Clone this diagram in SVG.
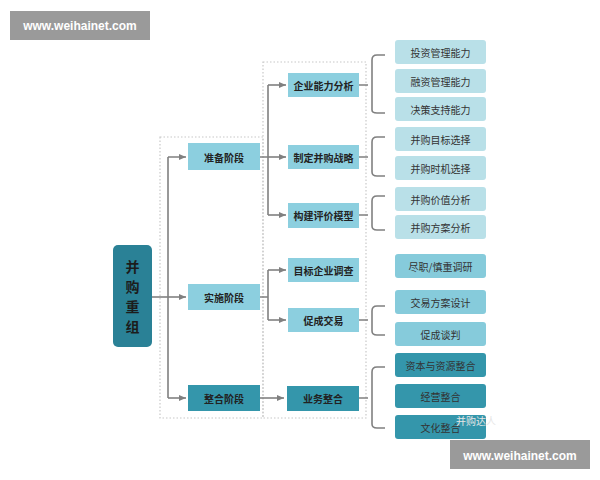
<svg xmlns="http://www.w3.org/2000/svg" width="600" height="480" viewBox="0 0 600 480">
<defs>
<marker id="ah" markerWidth="8" markerHeight="8" refX="7" refY="4" orient="auto" markerUnits="userSpaceOnUse"><path d="M0,1 L7,4 L0,7 Z" fill="#808080"/></marker>
<style>
text{font-family:"Noto Sans CJK SC","Noto Sans",sans-serif;text-anchor:middle;dominant-baseline:central}
.c{fill:none;stroke:#808080;stroke-width:1.6}
.dot{fill:none;stroke:#c8c8c8;stroke-width:1.2;stroke-dasharray:1.5 2}
.l1{fill:#8ccfdf}.l2{fill:#8ccfdf}.lf{fill:#b9e0e8}.md{fill:#86cbdb}.dk{fill:#3496ab}
.t{font-size:10px;fill:#222;font-weight:bold}
.s{font-size:10px;fill:#333}
.r{font-size:14px;font-weight:bold;fill:#1c1c1c}
</style>
</defs>
<rect width="600" height="480" fill="#fff"/>
<rect class="dot" x="160" y="137" width="103" height="281"/>
<rect class="dot" x="263" y="62" width="103" height="356"/>
<g id="connectors">
<path class="c" d="M152,297 H168"/>
<path class="c" d="M168,157 V398 M168,157 H186" marker-end="url(#ah)"/>
<path class="c" d="M168,297 H186" marker-end="url(#ah)"/>
<path class="c" d="M168,398 H186" marker-end="url(#ah)"/>
<path class="c" d="M260,157 H268 M268,85 V215"/>
<path class="c" d="M268,85 H286" marker-end="url(#ah)"/>
<path class="c" d="M268,157 H286" marker-end="url(#ah)"/>
<path class="c" d="M268,215 H286" marker-end="url(#ah)"/>
<path class="c" d="M260,297 H268 M268,270 V320"/>
<path class="c" d="M268,270 H286" marker-end="url(#ah)"/>
<path class="c" d="M268,320 H286" marker-end="url(#ah)"/>
<path class="c" d="M260,398 H284" marker-end="url(#ah)"/>
<path class="c" d="M359,85 H368 M385,55 H377 Q372,55 372,60 V110 Q372,113 377,113 H385"/>
<path class="c" d="M359,157 H368 M385,137 H377 Q372,137 372,142 V172 Q372,176 377,176 H385"/>
<path class="c" d="M359,215 H368 M385,196 H377 Q372,196 372,201 V226 Q372,230 377,230 H385"/>
<path class="c" d="M359,320 H368 M385,306 H377 Q372,306 372,311 V331 Q372,335 377,335 H385"/>
<path class="c" d="M359,398 H368 M385,367 H377 Q372,367 372,372 V424 Q372,428 377,428 H385"/>
</g>
<g id="root"><rect x="113" y="245" width="39" height="102" rx="5" fill="#2a8196"/>
<text class="r" x="132.5" y="266">并</text>
<text class="r" x="132.5" y="286">购</text>
<text class="r" x="132.5" y="306">重</text>
<text class="r" x="132.5" y="326">组</text></g>
<g id="p1"><rect class="l1" x="188" y="143" width="72" height="27"/><text class="t" x="224" y="157">准备阶段</text></g>
<g id="p2"><rect class="l1" x="188" y="284" width="72" height="26"/><text class="t" x="224" y="297">实施阶段</text></g>
<g id="p3"><rect class="dk" x="188" y="385" width="72" height="26"/><text class="t" x="224" y="398">整合阶段</text></g>
<g id="a1"><rect class="l2" x="288" y="73" width="71" height="24"/><text class="t" x="323.5" y="85">企业能力分析</text></g>
<g id="a2"><rect class="l2" x="288" y="145" width="71" height="24"/><text class="t" x="323.5" y="157">制定并购战略</text></g>
<g id="a3"><rect class="l2" x="288" y="203" width="71" height="25"/><text class="t" x="323.5" y="215">构建评价模型</text></g>
<g id="b1"><rect class="l2" x="288" y="258" width="71" height="24"/><text class="t" x="323.5" y="270">目标企业调查</text></g>
<g id="b2"><rect class="l2" x="288" y="308" width="71" height="24"/><text class="t" x="323.5" y="320">促成交易</text></g>
<g id="c1"><rect class="dk" x="287" y="386" width="72" height="25"/><text class="t" x="323" y="398">业务整合</text></g>
<g id="f1"><rect class="lf" x="395" y="40" width="91" height="24" rx="3"/><text class="s" x="440.5" y="52">投资管理能力</text></g>
<g id="f2"><rect class="lf" x="395" y="69" width="91" height="24" rx="3"/><text class="s" x="440.5" y="81">融资管理能力</text></g>
<g id="f3"><rect class="lf" x="395" y="97" width="91" height="24" rx="3"/><text class="s" x="440.5" y="109">决策支持能力</text></g>
<g id="f4"><rect class="lf" x="395" y="127" width="91" height="24" rx="3"/><text class="s" x="440.5" y="139">并购目标选择</text></g>
<g id="f5"><rect class="lf" x="395" y="156" width="91" height="24" rx="3"/><text class="s" x="440.5" y="168">并购时机选择</text></g>
<g id="f6"><rect class="lf" x="395" y="187" width="91" height="24" rx="3"/><text class="s" x="440.5" y="199">并购价值分析</text></g>
<g id="f7"><rect class="lf" x="395" y="215" width="91" height="24" rx="3"/><text class="s" x="440.5" y="227">并购方案分析</text></g>
<g id="g1"><rect class="md" x="395" y="254" width="91" height="24" rx="3"/><text class="s" x="440.5" y="266">尽职/慎重调研</text></g>
<g id="g2"><rect class="md" x="395" y="290" width="91" height="24" rx="3"/><text class="s" x="440.5" y="302">交易方案设计</text></g>
<g id="g3"><rect class="md" x="395" y="322" width="91" height="24" rx="3"/><text class="s" x="440.5" y="334">促成谈判</text></g>
<g id="h1"><rect class="dk" x="395" y="353" width="91" height="24" rx="3"/><text class="s" x="440.5" y="365">资本与资源整合</text></g>
<g id="h2"><rect class="dk" x="395" y="384" width="91" height="24" rx="3"/><text class="s" x="440.5" y="396">经营整合</text></g>
<g id="h3"><rect class="dk" x="395" y="415" width="91" height="24" rx="3"/><text class="s" x="440.5" y="427">文化整合</text></g>
<text x="476" y="420" font-size="10" fill="#e6e6e6">并购达人</text>
<rect x="10" y="11" width="140" height="29" fill="#9a9a9a"/>
<text x="80" y="25.5" font-size="12" font-weight="bold" fill="#fff" style="font-family:'Liberation Sans',sans-serif">www.weihainet.com</text>
<rect x="450" y="440" width="140" height="29" fill="#9a9a9a"/>
<text x="520" y="455.5" font-size="12" font-weight="bold" fill="#fff" style="font-family:'Liberation Sans',sans-serif">www.weihainet.com</text>
</svg>
